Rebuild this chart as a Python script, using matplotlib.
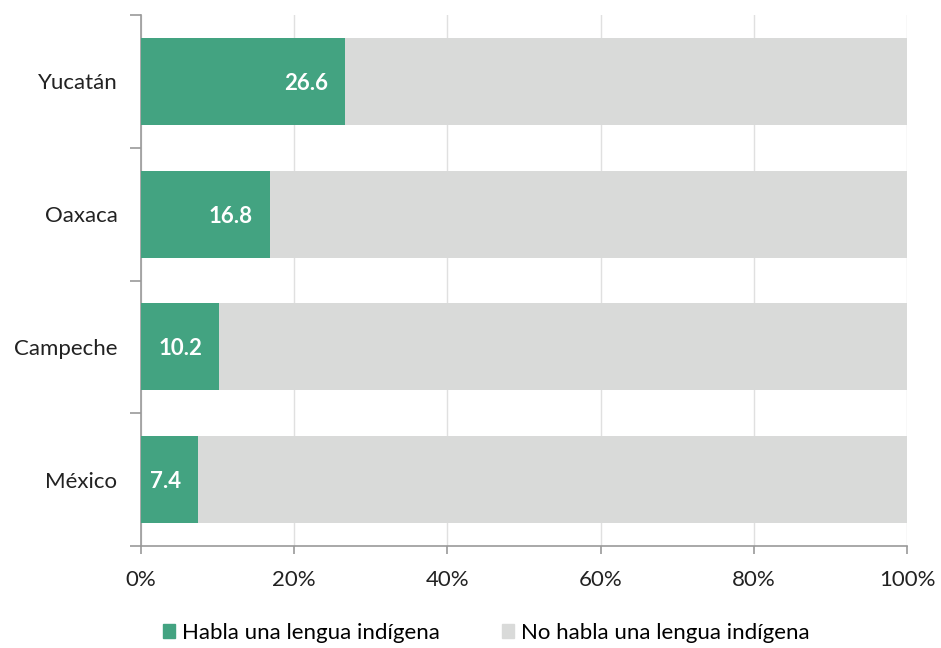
import matplotlib
matplotlib.use("Agg")
import matplotlib.pyplot as plt
from matplotlib.patches import Patch
import numpy as np

categories = ["Yucatán", "Oaxaca", "Campeche", "México"]
habla = [26.6, 16.8, 10.2, 7.4]
no_habla = [73.4, 83.2, 89.8, 92.6]
xticks = [0, 20, 40, 60, 80, 100]
xticklabels = ["0%", "20%", "40%", "60%", "80%", "100%"]
series_names = ["Habla una lengua indígena", "No habla una lengua indígena"]

green = "#43A381"
grey = "#D9DAD9"
font = ["Lato", "DejaVu Sans"]
plt.rcParams["font.family"] = font
fs = 16

fig = plt.figure(figsize=(9.41, 6.48), dpi=100)
ax = fig.add_axes([141/941, 1-546/648, (907-141)/941, (546-15)/648])

y = np.arange(len(categories))
h = 0.655
ax.barh(y, habla, height=h, color=green, zorder=3)
ax.barh(y, no_habla, left=habla, height=h, color=grey, zorder=3)

for yi, v in zip(y, habla):
    ax.annotate(f"{v:.1f}", xy=(v, yi), xytext=(-17, -2), textcoords="offset pixels",
                ha="right", va="center", color="white", fontsize=fs, fontweight="bold")

ax.set_xlim(0, 100)
ax.set_ylim(len(categories) - 0.5, -0.5)
ax.set_xticks(xticks)
ax.set_xticklabels(xticklabels, fontsize=fs, color="#222222")
ax.set_yticks(y)
ax.set_yticklabels(categories, fontsize=fs, color="#222222")
ax.tick_params(axis="y", which="major", length=0, pad=17)
ax.set_yticks(np.arange(-0.5, len(categories)), minor=True)
ax.tick_params(axis="y", which="minor", length=8, width=1.2, color="#999999", direction="out")
ax.tick_params(axis="x", length=6, width=1.2, color="#999999", pad=11)

ax.grid(axis="x", color="#E0E0E0", linewidth=1, zorder=0)
for s in ["top", "right"]:
    ax.spines[s].set_visible(False)
for s in ["left", "bottom"]:
    ax.spines[s].set_color("#999999")
    ax.spines[s].set_linewidth(1.2)

handles = [Patch(color=green), Patch(color=grey)]
fig.legend(handles, series_names, loc="center", bbox_to_anchor=(486/941, 1-633/648),
           ncol=2, frameon=False, fontsize=fs, handlelength=0.55, handleheight=0.55,
           handletextpad=0.3, columnspacing=2.8)

fig.savefig("out.png", dpi=100)
